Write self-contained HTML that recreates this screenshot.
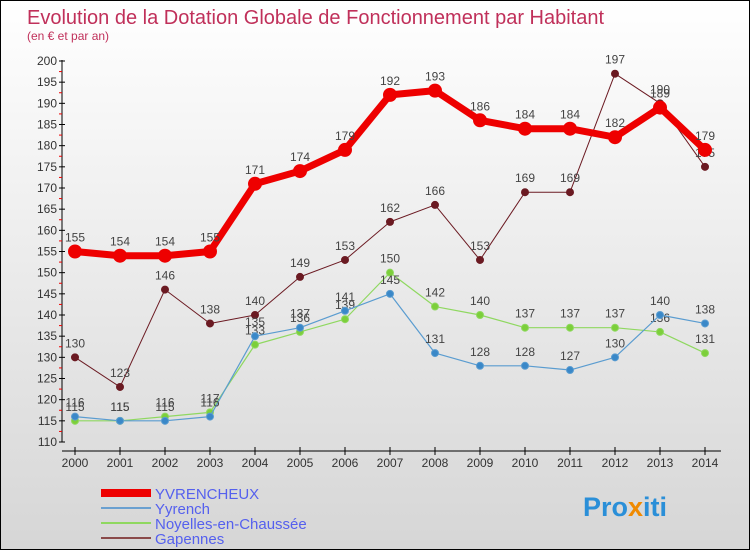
<!DOCTYPE html>
<html><head><meta charset="utf-8"><style>
html,body{margin:0;padding:0}
body{width:750px;height:550px;overflow:hidden;font-family:"Liberation Sans","DejaVu Sans",sans-serif}
#wrap{position:absolute;left:0;top:0;width:748px;height:548px;border:1px solid #000;background:linear-gradient(#ffffff,#d6d6d6)}
</style></head><body>
<div id="wrap">
<svg id="chart" width="748" height="548">
<text x="26" y="23" font-size="20" fill="#c0305a">Evolution de la Dotation Globale de Fonctionnement par Habitant</text>
<text x="26" y="39" font-size="12" fill="#c0305a">(en € et par an)</text>
<g id="axes"></g><g id="series"></g><g id="legend"></g>
<text x="582" y="515" font-size="27" font-weight="bold" fill="#2a8fd8">Pro<tspan fill="#f08a00">x</tspan>iti</text>
</svg></div>
<script>
const years=[2000,2001,2002,2003,2004,2005,2006,2007,2008,2009,2010,2011,2012,2013,2014];
const yvrencheux=[155,154,154,155,171,174,179,192,193,186,184,184,182,189,179];
const yyrench=[116,115,115,116,135,137,141,145,131,128,128,127,130,140,138];
const noyelles=[115,115,116,117,133,136,139,150,142,140,137,137,137,136,131];
const gapennes=[130,123,146,138,140,149,153,162,166,153,169,169,197,190,175];
const yTicks=[110,115,120,125,130,135,140,145,150,155,160,165,170,175,180,185,190,195,200];
const NS='http://www.w3.org/2000/svg';
function X(i){return 74+i*45;}
function Y(v){return 441-(v-110)*(381/90);}
function mk(t,a,p){const e=document.createElementNS(NS,t);for(const k in a)e.setAttribute(k,a[k]);p.appendChild(e);return e;}
const ax=document.getElementById('axes');
const yl=mk('line',{x1:61,y1:59,x2:61,y2:441,stroke:'#000'},ax);


yTicks.forEach(v=>{
 mk('line',{x1:58,y1:Y(v),x2:64,y2:Y(v),stroke:'#000'},ax);
 if(v<200) mk('line',{x1:58,y1:Y(v+2.5),x2:61,y2:Y(v+2.5),stroke:'#e00'},ax);
 const t=mk('text',{x:56,y:Y(v)+4,'font-size':12,'text-anchor':'end',fill:'#333'},ax);t.textContent=v;
 
 
});
const xl=mk('line',{x1:61,y1:450,x2:720,y2:450,stroke:'#000'},ax);


years.forEach((y,i)=>{
 mk('line',{x1:X(i),y1:446,x2:X(i),y2:454,stroke:'#000'},ax);
 const t=mk('text',{x:X(i),y:466,'font-size':12,'text-anchor':'middle',fill:'#333'},ax);t.textContent=y;
 
 
});
const sg=document.getElementById('series');
function draw(vals,color,w,r,dot,name){
 const g=mk('g',{},sg);
 
 
 const pl=mk('polyline',{points:vals.map((v,i)=>X(i)+','+Y(v)).join(' '),fill:'none',stroke:color,'stroke-width':w,'stroke-linejoin':'round'},g);
 
 
 vals.forEach((v,i)=>{
  const c=mk('circle',{cx:X(i),cy:Y(v),r:r,fill:dot,stroke:color,'stroke-width':1},g);
  
  
  const t=mk('text',{x:X(i),y:Y(v)-10,'font-size':12,'text-anchor':'middle',fill:'#444'},g);t.textContent=v;
  
  
 });
}
draw(gapennes,'#6b1a22',1,3.5,'#6b1a22','gapennes');
draw(noyelles,'#8fd860',1.2,3.5,'#7ccf3a','noyelles');
draw(yyrench,'#5a9cd0',1.2,3.5,'#3a88c8','yyrench');
draw(yvrencheux,'#ee0000',7,6.5,'#ee0000','yvrencheux');
const lg=document.getElementById('legend');
[['YVRENCHEUX','#ee0000',8],['Yyrench','#6aa0d0',2],['Noyelles-en-Chaussée','#8fd860',2],['Gapennes','#8a4a4a',2]].forEach((e,i)=>{
 const y=492+i*15;
 const l=mk('line',{x1:100,y1:y,x2:150,y2:y,stroke:e[1],'stroke-width':e[2]},lg);
 
 
 const t=mk('text',{x:154,y:y+6,'font-size':15,fill:'#5560ee'},lg);t.textContent=e[0];
 
 
});
</script>
</body></html>
